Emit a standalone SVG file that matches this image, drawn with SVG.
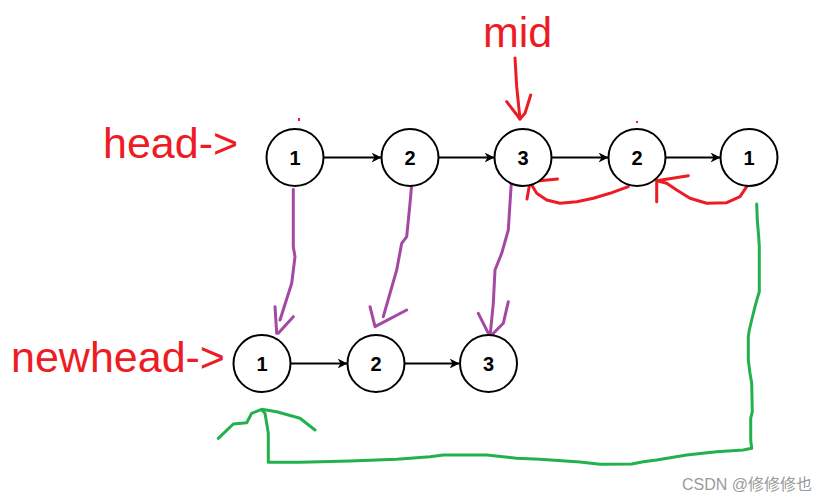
<svg xmlns="http://www.w3.org/2000/svg" width="834" height="502" viewBox="0 0 834 502">
<style>
.node circle{fill:#fff;stroke:#000;stroke-width:2}
.node text{font-family:"Liberation Sans",Arial,sans-serif;font-weight:bold;font-size:20px;fill:#000;text-anchor:middle}
.lbl{font-family:"Liberation Sans",Arial,sans-serif;font-size:43px;fill:#ED1C24}
.link{stroke:#000;stroke-width:2;fill:none;marker-end:url(#ah)}
.pur{stroke:#A349A4;stroke-width:3;fill:none;stroke-linecap:round;stroke-linejoin:round}
.red{stroke:#ED1C24;stroke-width:3;fill:none;stroke-linecap:round;stroke-linejoin:round}
.grn{stroke:#22B14C;stroke-width:3;fill:none;stroke-linecap:round;stroke-linejoin:round}
</style>
<defs>
<marker id="ah" markerUnits="userSpaceOnUse" markerWidth="11" markerHeight="11" refX="10" refY="5" orient="auto">
<path d="M0,0 L10,5 L0,10 L3,5 z" fill="#000"/>
</marker>
</defs>
<rect width="834" height="502" fill="#fff"/>

<text class="lbl" x="483" y="47">mid</text>
<text class="lbl" x="103" y="158">head-&gt;</text>
<text class="lbl" x="11" y="372">newhead-&gt;</text>

<g id="connectors">
<line class="link" x1="323.5" y1="157.5" x2="381.5" y2="157.5"/>
<line class="link" x1="438.5" y1="157.5" x2="494.5" y2="157.5"/>
<line class="link" x1="551.5" y1="157.5" x2="608.5" y2="157.5"/>
<line class="link" x1="665.5" y1="157.5" x2="720.5" y2="157.5"/>
<line class="link" x1="290.5" y1="363.5" x2="347.5" y2="363.5"/>
<line class="link" x1="404.5" y1="363.5" x2="459.5" y2="363.5"/>

<polyline class="red" points="515,58 516.7,86.7 520,119"/>
<polyline class="red" points="506.7,101.7 520,119 525,113.3 530.7,95"/>

<polyline class="pur" points="293.3,189.3 293.3,246.7 295,256.7 291.7,283.3 280,320"/>
<polyline class="pur" points="275,306.7 276.7,333.3 278.3,333.3 293.3,316.7"/>
<polyline class="pur" points="412.7,173.3 410,203.3 406.7,236.7 401.7,243.3 396.7,270 383.3,316.7"/>
<polyline class="pur" points="370,306.7 375,326.7 406.7,310"/>
<polyline class="pur" points="511.7,176.7 508.3,230 501.7,253.3 495,270 493.3,303.3 490,336.7"/>
<polyline class="pur" points="478.3,313.3 490,336.7 503.3,323.3 508.3,301.7"/>

<polyline class="red" points="628.3,186.7 610,193.3 593.3,198.3 576.7,201.7 560,203.3 546.7,200 536.7,193.3 531.7,185 530,181.7"/>
<polyline class="red" points="557.5,179 530,181.7 527,199"/>
<polyline class="red" points="746.7,186.7 740,196.7 726.7,202.7 706.7,203.3 690,198.3 676.7,190 666.7,183.3 656.7,180.7"/>
<polyline class="red" points="688.3,175.7 656.7,180.7 656.7,201.7"/>

<polyline class="grn" points="756.7,204 757.3,220 758.7,236.7 759.3,246.7 759.3,291.7 757.3,298.3 755,306.7 751.7,320 749.3,330 748.3,336.7 748.3,360 750,373.3 751.7,383.3 752.3,411.7 750.7,418.3 750.7,440 751.7,448.3 743.3,450 716.7,451.7 686.7,455 656.7,460 643.3,461.7 631.7,464 600,464.3 580,462 540,459.3 516.7,458.3 486.7,455 443.3,455 430,456.7 396.7,459.3 350,461 300,462.3 268.3,462.3 268.3,433.3 265,413.3 261.7,410"/>
<polyline class="grn" points="218.3,438.3 233.3,424 246.7,422.7 251.7,413.3 261.7,409.3 276.7,411.7 300,418.3 315,430"/>
</g>

<g id="n1" class="node"><circle cx="295" cy="157.5" r="28.5"/><text x="295" y="164.5">1</text></g>
<g id="n2" class="node"><circle cx="410" cy="157.5" r="28.5"/><text x="410" y="164.5">2</text></g>
<g id="n3" class="node"><circle cx="523" cy="157.5" r="28.5"/><text x="523" y="164.5">3</text></g>
<g id="n4" class="node"><circle cx="637" cy="157.5" r="28.5"/><text x="637" y="164.5">2</text></g>
<g id="n5" class="node"><circle cx="749" cy="157.5" r="28.5"/><text x="749" y="164.5">1</text></g>
<g id="m1" class="node"><circle cx="262" cy="363.5" r="28.5"/><text x="262" y="370.5">1</text></g>
<g id="m2" class="node"><circle cx="376" cy="363.5" r="28.5"/><text x="376" y="370.5">2</text></g>
<g id="m3" class="node"><circle cx="488.5" cy="363.5" r="28.5"/><text x="488.5" y="370.5">3</text></g>

<rect x="298" y="118" width="2" height="3" fill="#ED1C24"/>
<rect x="636" y="121" width="2" height="2" fill="#ED1C24"/>

<text x="682" y="490" font-family="'Liberation Sans','Noto Sans CJK SC',sans-serif" font-size="16" fill="#9a9a9a">CSDN @修修修也</text>
</svg>
